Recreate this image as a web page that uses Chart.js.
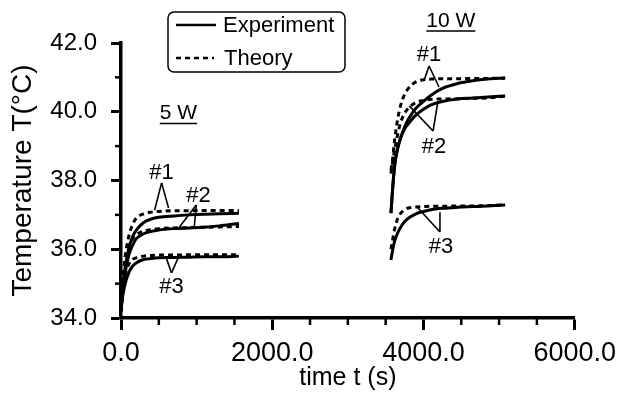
<!DOCTYPE html>
<html lang="en">
<head>
  <meta charset="UTF-8" />
  <title>Temperature vs time</title>
  <script src="https://cdn.jsdelivr.net/npm/chart.js"></script>
  <style>
    html, body { margin: 0; padding: 0; background: #fff; }
    #wrap { width: 623px; height: 395px; }
  </style>
</head>
<body>
  <div id="wrap"><canvas id="tempChart" width="623" height="395"></canvas></div>

  <script>
    // time points (s)
    const time5W = [0, 20, 50, 100, 150, 200, 300, 400, 500, 700, 900, 1100, 1300, 1560];
    const time10W = [3570, 3590, 3620, 3660, 3700, 3750, 3800, 3900, 4000, 4100, 4250, 4450, 4650, 4850, 5080];

    // 5 W, temperatures (°C)
    const exp1_5W = [34.2, 34.8, 35.4, 36.0, 36.35, 36.55, 36.78, 36.88, 36.93, 36.97, 37.0, 37.02, 37.03, 37.05];
    const the1_5W = [34.2, 35.0, 35.7, 36.35, 36.7, 36.9, 37.03, 37.08, 37.1, 37.12, 37.12, 37.13, 37.13, 37.13];
    const exp2_5W = [34.2, 34.7, 35.25, 35.8, 36.1, 36.3, 36.45, 36.52, 36.56, 36.6, 36.62, 36.64, 36.68, 36.75];
    const the2_5W = [34.2, 34.9, 35.5, 36.05, 36.3, 36.42, 36.53, 36.57, 36.6, 36.62, 36.63, 36.64, 36.65, 36.66];
    const exp3_5W = [34.2, 34.6, 34.95, 35.3, 35.5, 35.6, 35.7, 35.73, 35.75, 35.76, 35.77, 35.78, 35.78, 35.8];
    const the3_5W = [34.2, 34.8, 35.2, 35.55, 35.7, 35.75, 35.8, 35.82, 35.83, 35.83, 35.84, 35.84, 35.84, 35.84];

    // 10 W, temperatures (°C)
    const exp1_10W = [37.05, 37.7, 38.45, 38.95, 39.25, 39.55, 39.78, 40.1, 40.3, 40.48, 40.68, 40.82, 40.9, 40.95, 40.98];
    const exp2_10W = [37.05, 37.7, 38.45, 38.95, 39.25, 39.5, 39.65, 39.9, 40.07, 40.2, 40.3, 40.37, 40.4, 40.43, 40.46];
    const the1_10W = [38.3, 38.6, 39.2, 39.8, 40.2, 40.5, 40.68, 40.87, 40.93, 40.95, 40.96, 40.96, 40.97, 40.97, 40.98];
    const the2_10W = [38.2, 38.5, 38.9, 39.35, 39.7, 39.95, 40.1, 40.27, 40.33, 40.36, 40.37, 40.38, 40.39, 40.4, 40.45];
    const exp3_10W = [35.69, 35.95, 36.25, 36.48, 36.65, 36.8, 36.9, 37.03, 37.1, 37.15, 37.19, 37.22, 37.24, 37.26, 37.29];
    const the3_10W = [36.0, 36.25, 36.6, 36.9, 37.05, 37.15, 37.2, 37.23, 37.24, 37.25, 37.25, 37.26, 37.26, 37.27, 37.29];

    // axes
    const xTicks = [0, 2000, 4000, 6000];
    const xMinorTicks = [500, 1000, 1500, 2500, 3000, 3500, 4500, 5000, 5500];
    const yTicks = [34, 36, 38, 40, 42];
    const yMinorTicks = [35, 37, 39, 41];

    // callouts: label position and pointer legs, all in data units
    const callouts = [
      { text: '#1', at: [537, 38.22], apex: [537, 37.93], legs: [[445, 37.14], [629, 37.2]] },
      { text: '#2', at: [1025, 37.55], apex: [996, 37.29], legs: [[773, 36.65], [969, 36.65]] },
      { text: '#3', at: [668, 34.9], apex: [668, 35.31], legs: [[603, 35.72], [760, 35.77]] },
      { text: '#1', at: [4074, 41.65], apex: [4074, 41.33], legs: [[4009, 40.92], [4205, 40.72]] },
      { text: '#2', at: [4140, 38.97], apex: [4127, 39.44], legs: [[4192, 40.31], [3812, 40.17]] },
      { text: '#3', at: [4231, 36.07], apex: [4218, 36.5], legs: [[4218, 37.08], [3904, 37.26]] }
    ];
    const powerLabels = [
      { text: '5 W', at: [760, 39.95] },
      { text: '10 W', at: [4362, 42.64] }
    ];

    const pts = (xs, ys) => xs.map((x, i) => ({ x: x, y: ys[i] }));
    const solid = (xs, ys) => ({ data: pts(xs, ys), borderColor: '#000', borderWidth: 3, pointRadius: 0, cubicInterpolationMode: 'monotone', fill: false });
    const dashed = (xs, ys) => ({ data: pts(xs, ys), borderColor: '#000', borderWidth: 3, borderDash: [5, 4], pointRadius: 0, cubicInterpolationMode: 'monotone', fill: false });

    const FONT = 'Liberation Sans, Arial, sans-serif';

    // legend, callouts, power labels, minor ticks
    const extras = {
      id: 'extras',
      afterDraw(chart) {
        const ctx = chart.ctx;
        const xs = chart.scales.x, ys = chart.scales.y;
        const px = v => xs.getPixelForValue(v);
        const py = v => ys.getPixelForValue(v);
        ctx.save();
        ctx.strokeStyle = '#000';
        ctx.fillStyle = '#000';
        ctx.lineCap = 'butt';

        // minor ticks
        ctx.lineWidth = 2.5;
        xMinorTicks.forEach(v => {
          ctx.beginPath();
          ctx.moveTo(px(v), ys.bottom);
          ctx.lineTo(px(v), ys.bottom + 7);
          ctx.stroke();
        });
        yMinorTicks.forEach(v => {
          ctx.beginPath();
          ctx.moveTo(xs.left - 6, py(v));
          ctx.lineTo(xs.left, py(v));
          ctx.stroke();
        });

        // callout pointers and labels
        ctx.lineWidth = 1.6;
        callouts.forEach(c => {
          c.legs.forEach(l => {
            ctx.beginPath();
            ctx.moveTo(px(c.apex[0]), py(c.apex[1]));
            ctx.lineTo(px(l[0]), py(l[1]));
            ctx.stroke();
          });
        });
        ctx.font = '22px ' + FONT;
        ctx.textAlign = 'center';
        ctx.textBaseline = 'middle';
        callouts.forEach(c => ctx.fillText(c.text, px(c.at[0]), py(c.at[1])));

        // power labels, underlined
        ctx.font = '21px ' + FONT;
        powerLabels.forEach(p => {
          const cx = px(p.at[0]), cy = py(p.at[1]);
          ctx.fillText(p.text, cx, cy);
          const w = ctx.measureText(p.text).width;
          ctx.lineWidth = 1.5;
          ctx.beginPath();
          ctx.moveTo(cx - w / 2, cy + 10);
          ctx.lineTo(cx + w / 2, cy + 10);
          ctx.stroke();
        });

        // legend box
        ctx.lineWidth = 1.5;
        ctx.beginPath();
        ctx.roundRect(168, 12, 177, 60, 6);
        ctx.stroke();
        ctx.lineWidth = 2.5;
        ctx.beginPath();
        ctx.moveTo(176, 25);
        ctx.lineTo(216, 25);
        ctx.stroke();
        ctx.setLineDash([5, 4]);
        ctx.beginPath();
        ctx.moveTo(176, 58);
        ctx.lineTo(214, 58);
        ctx.stroke();
        ctx.setLineDash([]);
        ctx.font = '22px ' + FONT;
        ctx.textAlign = 'left';
        ctx.fillText('Experiment', 223, 26);
        ctx.fillText('Theory', 224, 59);
        ctx.restore();
      }
    };

    new Chart(document.getElementById('tempChart'), {
      type: 'line',
      data: {
        datasets: [
          solid(time5W, exp1_5W), dashed(time5W, the1_5W),
          solid(time5W, exp2_5W), dashed(time5W, the2_5W),
          solid(time5W, exp3_5W), dashed(time5W, the3_5W),
          solid(time10W, exp1_10W), dashed(time10W, the1_10W),
          solid(time10W, exp2_10W), dashed(time10W, the2_10W),
          solid(time10W, exp3_10W), dashed(time10W, the3_10W)
        ]
      },
      options: {
        responsive: false,
        animation: false,
        layout: { padding: { top: 43, right: 44, left: 0, bottom: 0 } },
        plugins: { legend: { display: false }, tooltip: { enabled: false } },
        scales: {
          x: {
            type: 'linear',
            min: 0, max: 6000,
            afterFit: s => { s.height = 77; },
            afterBuildTicks: s => { s.ticks = xTicks.map(v => ({ value: v })); },
            border: { display: true, color: '#000', width: 3.5 },
            grid: { display: true, drawOnChartArea: false, drawTicks: true, tickLength: 12, tickWidth: 3, tickColor: '#000' },
            ticks: { color: '#000', maxRotation: 0, padding: 7, font: { family: FONT, size: 27 }, callback: v => v.toFixed(1) },
            title: { display: true, text: 'time t (s)', color: '#000', font: { family: FONT, size: 25 }, padding: { top: 0, bottom: 2 } }
          },
          y: {
            type: 'linear',
            min: 34, max: 42,
            afterFit: s => { s.width = 121; },
            afterBuildTicks: s => { s.ticks = yTicks.map(v => ({ value: v })); },
            border: { display: true, color: '#000', width: 3.5 },
            grid: { display: true, drawOnChartArea: false, drawTicks: true, tickLength: 10, tickWidth: 3, tickColor: '#000' },
            ticks: { color: '#000', padding: 14, font: { family: FONT, size: 24 }, callback: v => v.toFixed(1) },
            title: { display: true, text: 'Temperature T(°C)', color: '#000', font: { family: FONT, size: 28 }, padding: { top: 6, bottom: 0 } }
          }
        }
      },
      plugins: [extras]
    });
  </script>
</body>
</html>
